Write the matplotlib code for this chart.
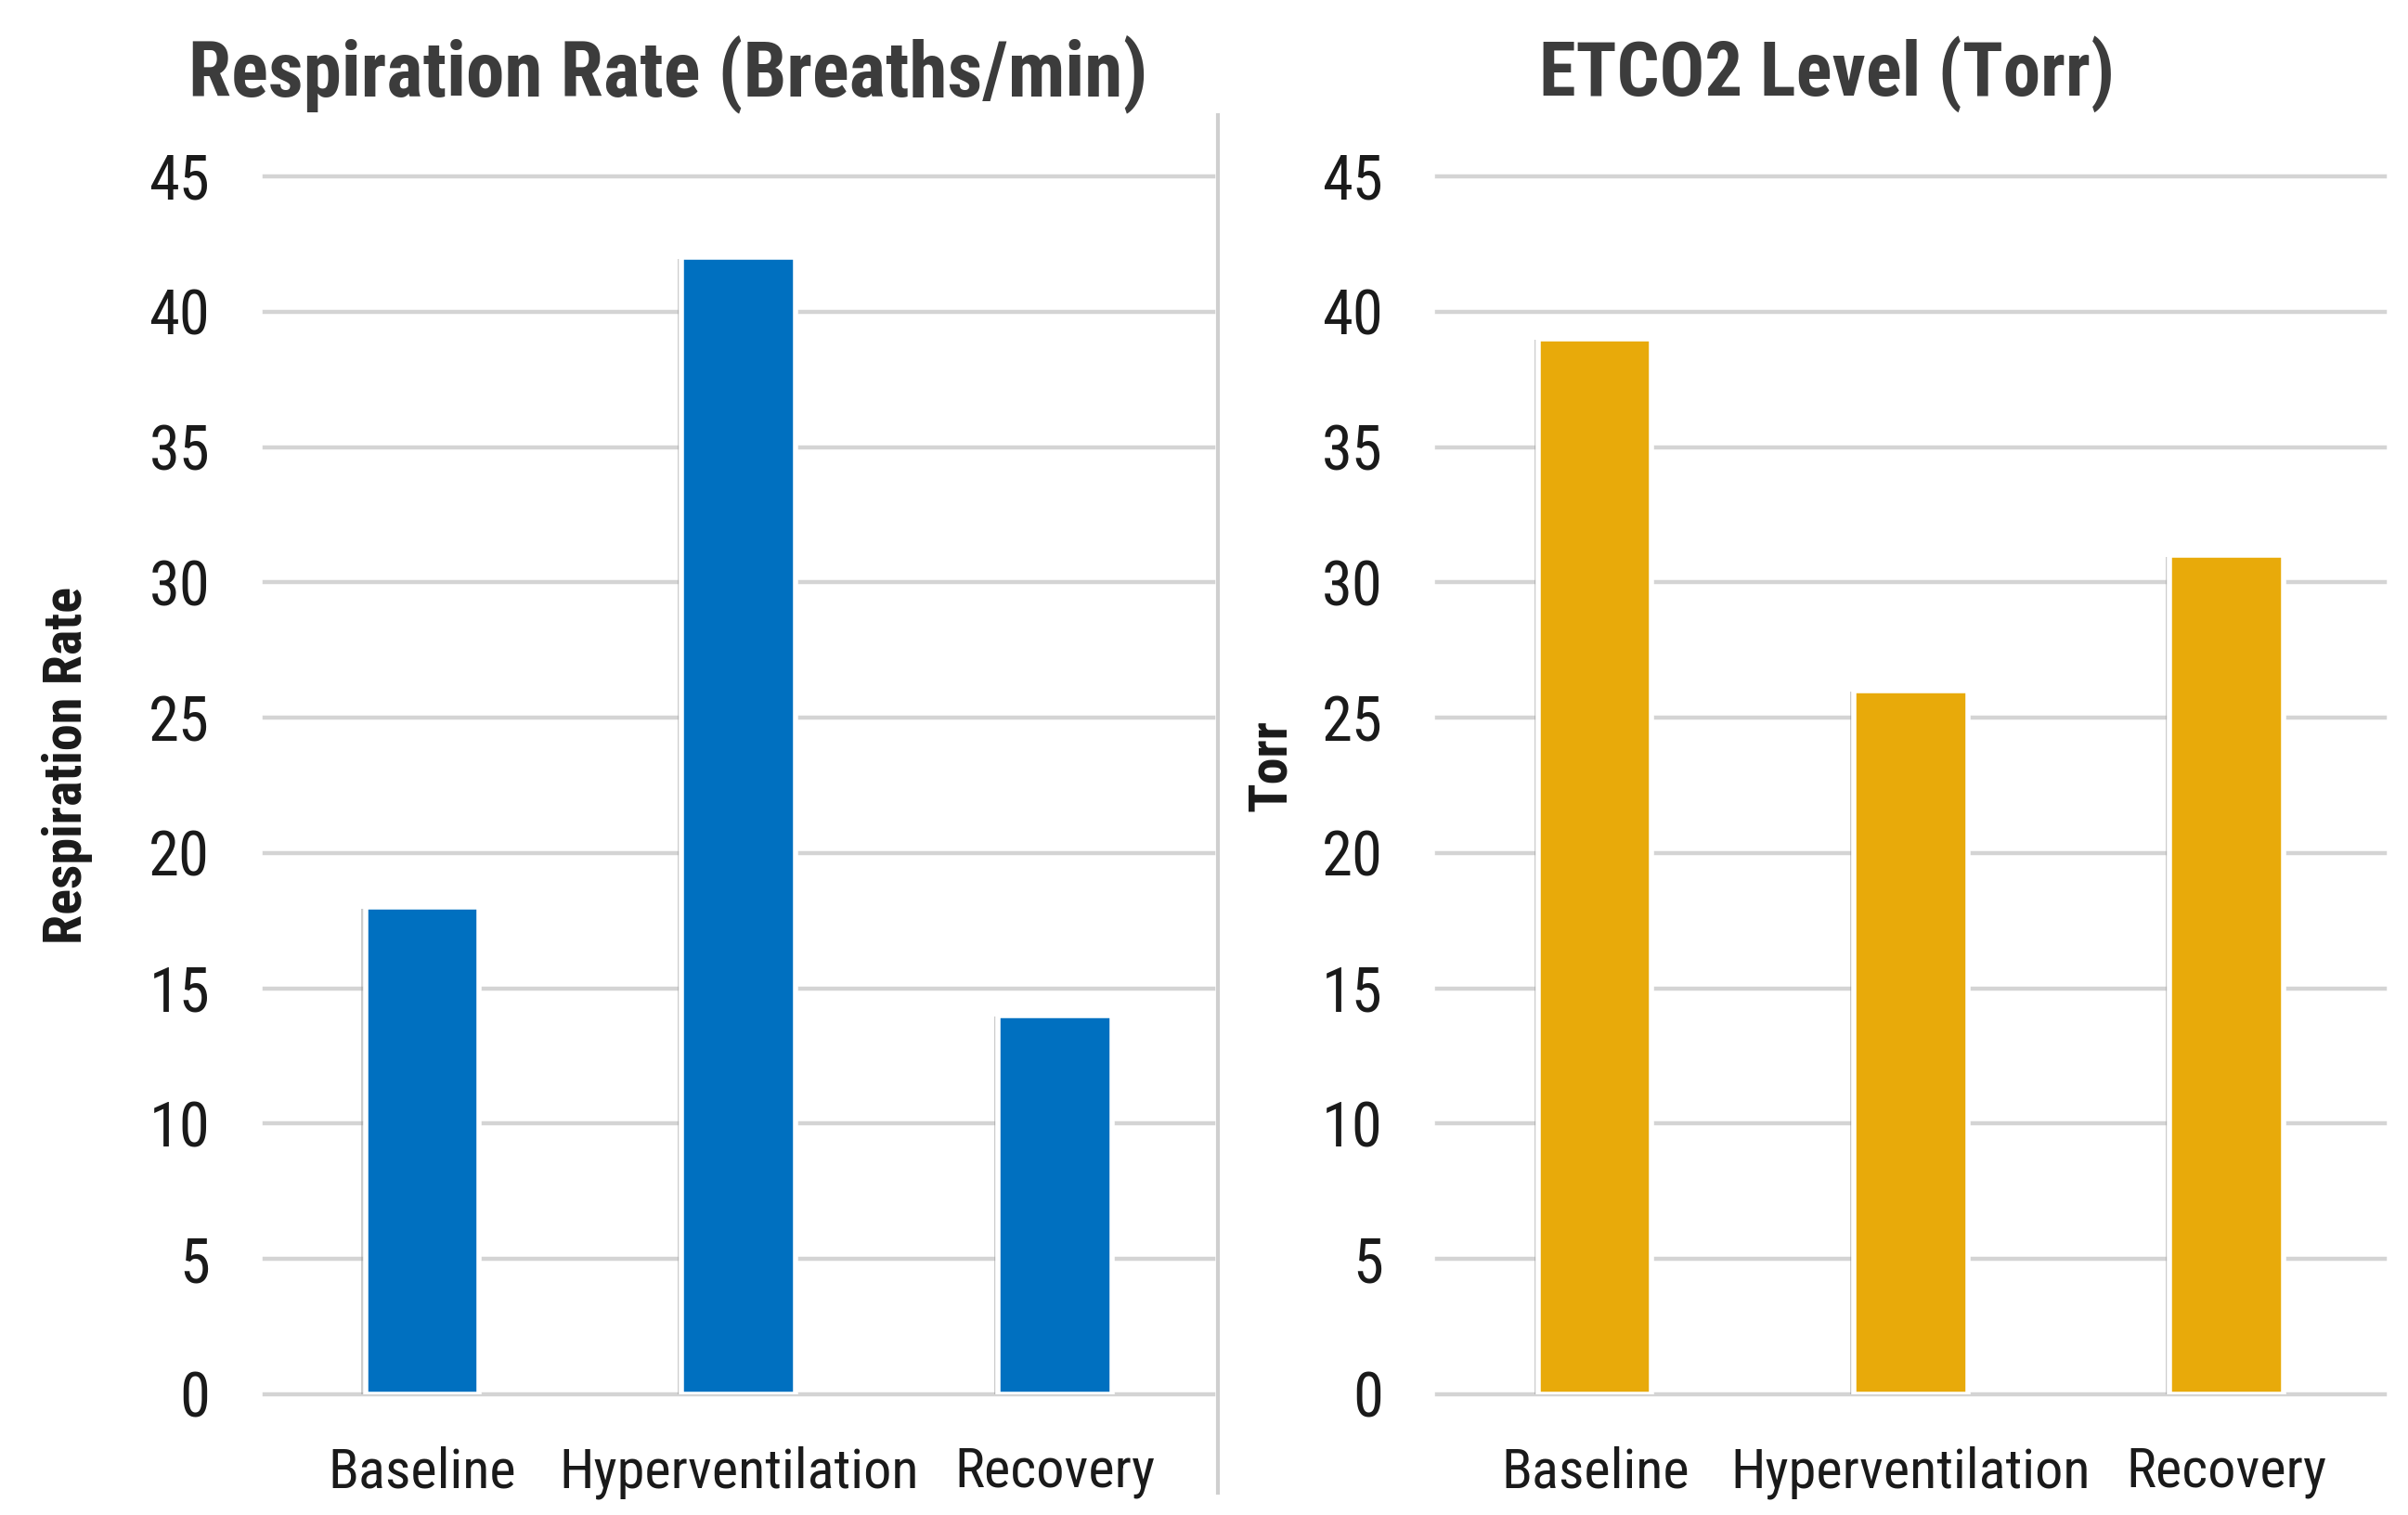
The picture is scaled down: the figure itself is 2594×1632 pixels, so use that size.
import matplotlib
matplotlib.use("Agg")
import matplotlib.pyplot as plt
import matplotlib.patheffects as pe
from matplotlib.lines import Line2D
from matplotlib import font_manager as fm

categories = ["Baseline", "Hyperventilation", "Recovery"]
resp_rate = [18, 42, 14]
etco2 = [39, 26, 31]
yticks = [0, 5, 10, 15, 20, 25, 30, 35, 40, 45]

# ---- choose a narrow font if one is installed ----
ttf = fm.fontManager.ttflist
condensed_kw = ('condensed', 'semi-condensed', 'extra-condensed', 'ultra-condensed')
named = ['Roboto Condensed', 'Liberation Sans Narrow', 'Arial Narrow', 'Open Sans Condensed',
         'Noto Sans Condensed', 'DejaVu Sans Condensed']
reg_file = bold_file = None
is_narrow = False

def pick(entries):
    reg = [f for f in entries if f.weight in (400, 'normal', 'regular') and f.style == 'normal']
    bld = [f for f in entries if f.weight in (700, 'bold') and f.style == 'normal']
    return (reg[0].fname if reg else None), (bld[0].fname if bld else None)

for n in named:
    ent = [f for f in ttf if f.name == n]
    if ent:
        r, b = pick(ent)
        if r:
            reg_file, bold_file = r, b
            is_narrow = True
            break
if reg_file is None:
    for base in ['Roboto', 'Noto Sans', 'Open Sans', 'Liberation Sans', 'DejaVu Sans', 'Inter', 'Lato']:
        ent = [f for f in ttf if f.name == base and str(f.stretch) in condensed_kw]
        if ent:
            r, b = pick(ent)
            if r:
                reg_file, bold_file = r, b
                is_narrow = True
                break
if reg_file is None:
    ent = [f for f in ttf if f.name == 'Roboto' and str(f.stretch) == 'normal']
    r, b = pick(ent) if ent else (None, None)
    reg_file, bold_file = r, b

def fp(bold=False, size=20):
    f = bold_file if bold else reg_file
    if f:
        return fm.FontProperties(fname=f, size=size)
    return fm.FontProperties(family='DejaVu Sans', weight='bold' if bold else 'normal', size=size)

fig = plt.figure(figsize=(12.97, 8.16), dpi=200)
fig.patch.set_facecolor("white")

axL = fig.add_axes([0.1097, 0.0797, 0.3942, 0.8039])
axR = fig.add_axes([0.5968, 0.0797, 0.3935, 0.8039])

ytick_size = 24 if is_narrow else 22
ylabels = []

def style(ax, vals, color, ylabel, ylabel_x):
    x = list(range(len(categories)))
    bars = ax.bar(x, vals, width=0.36, color=color, edgecolor="white", linewidth=2.0, zorder=3)
    for b in bars:
        b.set_path_effects([pe.SimplePatchShadow(offset=(-1.5, -0.5), shadow_rgbFace="#9a9a9a", alpha=0.5), pe.Normal()])
    ax.set_xlim(-0.5, 2.5)
    ax.set_ylim(0, 45)
    ax.set_yticks(yticks)
    ax.set_xticks(x)
    ax.set_xticklabels(categories, fontproperties=fp(False, 25), color="#1a1a1a")
    ax.set_yticklabels([str(t) for t in yticks], fontproperties=fp(False, ytick_size), color="#1a1a1a")
    ax.tick_params(axis="both", length=0)
    ax.tick_params(axis="y", pad=21)
    ax.tick_params(axis="x", pad=20)
    for s in ax.spines.values():
        s.set_visible(False)
    ax.grid(axis="y", color="#d4d4d4", linewidth=1.6, zorder=0)
    ax.set_axisbelow(True)
    for gl in ax.get_ygridlines():
        gl.set_clip_on(False)
    t = fig.text(ylabel_x, 0.495, ylabel, rotation=90, ha="center", va="center",
                 fontproperties=fp(True, 20), color="#1a1a1a")
    ylabels.append(t)

style(axL, resp_rate, "#0070C0", "Respiration Rate", 0.028)
style(axR, etco2, "#E8AA0A", "Torr", 0.528)

tL = fig.text(0.2775, 0.951, "Respiration Rate (Breaths/min)", ha="center", va="center",
              fontproperties=fp(True, 31), color="#3c3c3c")
tR = fig.text(0.7588, 0.951, "ETCO2 Level (Torr)", ha="center", va="center",
              fontproperties=fp(True, 31), color="#3c3c3c")

fig.add_artist(Line2D([0.5057, 0.5057], [0.015, 0.924], color="#cfcfcf", linewidth=1.5,
                      transform=fig.transFigure))

# ---- fit text widths to the reference proportions ----
fig.canvas.draw()
r = fig.canvas.get_renderer()

def fit(t, target, vertical=False):
    bb = t.get_window_extent(r)
    cur = bb.height if vertical else bb.width
    if cur > 0:
        t.set_fontsize(t.get_fontsize() * target / cur)

fit(tL, 1035)
fit(tR, 620)
fit(ylabels[0], 385, vertical=True)
sz_label = ylabels[0].get_fontsize()
ylabels[1].set_fontsize(sz_label)

hyp = axL.get_xticklabels()[1]
bb = hyp.get_window_extent(r)
xs = 25 * 389 / bb.width
for ax in (axL, axR):
    for lab in ax.get_xticklabels():
        lab.set_fontsize(xs)

fig.savefig("out.png", dpi=200, facecolor="white")
